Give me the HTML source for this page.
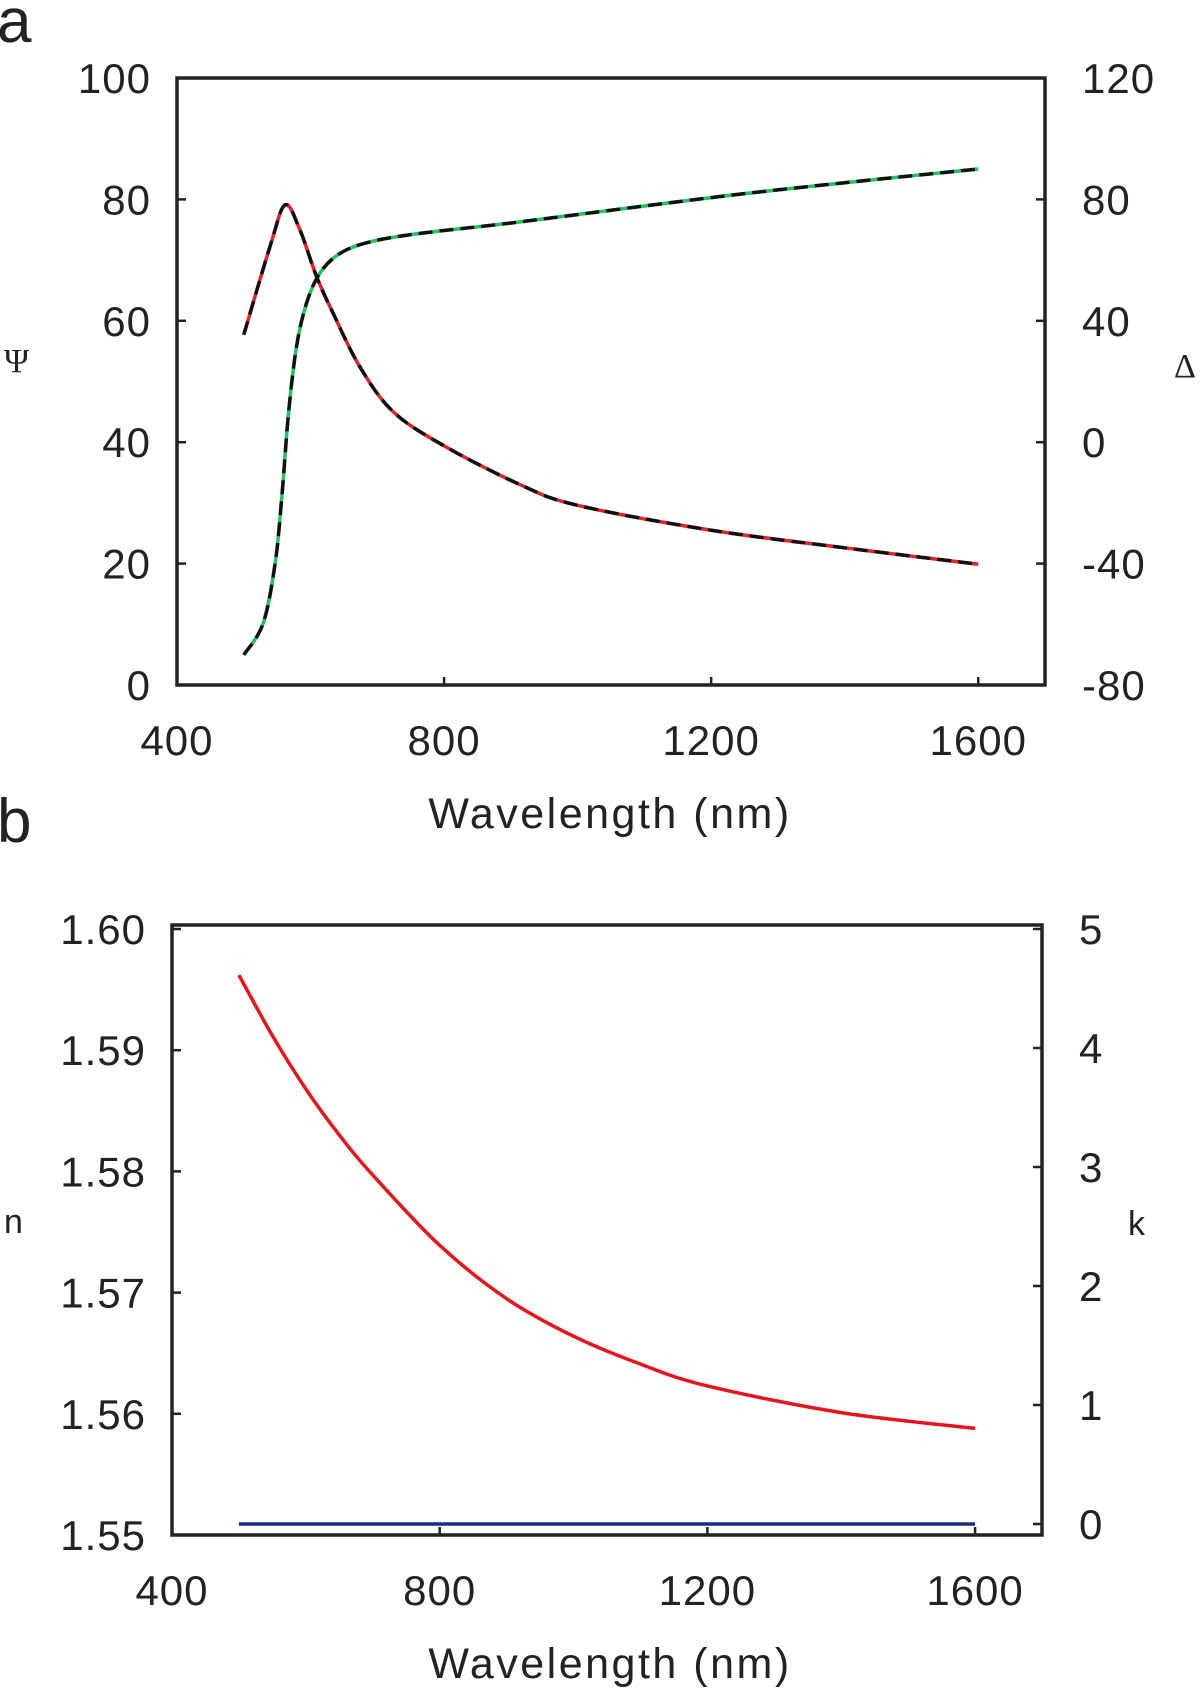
<!DOCTYPE html>
<html><head><meta charset="utf-8"><style>
html,body{margin:0;padding:0;background:#fff}
svg{display:block}
text{font-family:"Liberation Sans",sans-serif;fill:#222}
</style></head><body>
<svg id="chart" width="1200" height="1691" viewBox="0 0 1200 1691" xmlns="http://www.w3.org/2000/svg">
<text x="-3" y="42" font-size="62">a</text>
<text x="-3" y="842" font-size="62">b</text>
<g id="pa"></g>
<g id="pb"></g>
</svg>
<script>
// Panel a data
const wlA = [500, 540, 562, 584, 609, 634, 674, 724, 800, 914, 1000, 1200, 1400, 1600];
const psiVals = [57.7, 72.5, 79.1, 75, 67.3, 61.2, 52.4, 45.0, 39.4, 33.0, 29.6, 25.5, 22.6, 19.9];
const wlDelta = [500, 529, 547, 557, 567, 579, 594, 614, 644, 689, 764, 914, 1200, 1400, 1600];
const deltaVals = [-70.1, -59.7, -39.9, -18, 9.5, 31.5, 45.8, 55.7, 62.2, 66, 68.8, 72.6, 80.6, 85.5, 90];
const xTicks = [400, 800, 1200, 1600];
const psiTicks = [0, 20, 40, 60, 80, 100];
const deltaTicks = [-80, -40, 0, 40, 80, 120];
// Panel b data
const wlB = [500, 550, 600, 650, 700, 800, 900, 1000, 1100, 1200, 1400, 1600];
const nVals = [1.5962, 1.5912, 1.5868, 1.5830, 1.5797, 1.5739, 1.5695, 1.5664, 1.5641, 1.5623, 1.5601, 1.5588];
const kWl = [500, 1600];
const kVals = [0, 0];
const nTicks = [1.55, 1.56, 1.57, 1.58, 1.59, 1.60];
const kTicks = [0, 1, 2, 3, 4, 5];

const NS = "http://www.w3.org/2000/svg";
function mk(parent, tag, attrs){const e=document.createElementNS(NS,tag);for(const k in attrs)e.setAttribute(k,attrs[k]);parent.appendChild(e);return e;}
function lin(d0,d1,r0,r1){return v=>r0+(v-d0)/(d1-d0)*(r1-r0);}

function panel(g, box, x, yL, yR, lTicks, rTicks, lFmt, rFmt, lLabel, rLabel, lLabelPos, rLabelPos, xLabY, lSerif){
  const fr = mk(g,'rect',{x:box.l,y:box.t,width:box.r-box.l,height:box.b-box.t,fill:'none',stroke:'#222','stroke-width':3.5});
  
  
  xTicks.forEach(v=>{
    const t=mk(g,'line',{x1:x(v),x2:x(v),y1:box.b,y2:box.b-8,stroke:'#222','stroke-width':2.5});
    
    
    const l=mk(g,'text',{x:x(v),y:box.b+70,'font-size':42,'text-anchor':'middle','letter-spacing':1});l.textContent=v;
    
    
  });
  lTicks.forEach(v=>{
    const t=mk(g,'line',{x1:box.l,x2:box.l+9,y1:yL(v),y2:yL(v),stroke:'#222','stroke-width':2.5});
    
    
    const l=mk(g,'text',{x:box.l-26,y:yL(v)+15,'font-size':42,'text-anchor':'end','letter-spacing':1});l.textContent=lFmt(v);
    
    
  });
  rTicks.forEach(v=>{
    const t=mk(g,'line',{x1:box.r,x2:box.r-9,y1:yR(v),y2:yR(v),stroke:'#222','stroke-width':2.5});
    
    
    const l=mk(g,'text',{x:box.r+37,y:yR(v)+15,'font-size':42,'letter-spacing':1}); l.textContent=rFmt(v);
    
    
  });
  const a=mk(g,'text',{x:lLabelPos[0],y:lLabelPos[1],'font-size':34});a.textContent=lLabel;
  if(lSerif) a.setAttribute('style','font-family:"Liberation Serif",serif');
  
  
  const b=mk(g,'text',{x:rLabelPos[0],y:rLabelPos[1],'font-size':34});b.textContent=rLabel;
  if(lSerif) b.setAttribute('style','font-family:"Liberation Serif",serif');
  
  
  const xl=mk(g,'text',{x:610,y:xLabY,'font-size':43,'text-anchor':'middle','letter-spacing':2.5});xl.textContent='Wavelength (nm)';
  
  
}
function path(xs,ys,x,y){return xs.map((v,i)=>(i?'L':'M')+x(v).toFixed(1)+','+y(ys[i]).toFixed(1)).join(' ');}
function smoothPath(xs,ys,x,y){
  const p=xs.map((v,i)=>[x(v),y(ys[i])]);let d='M'+p[0][0]+','+p[0][1];
  for(let i=0;i<p.length-1;i++){const p0=p[i-1]||p[i],p1=p[i],p2=p[i+1],p3=p[i+2]||p2;
    d+=` C${p1[0]+(p2[0]-p0[0])/6},${p1[1]+(p2[1]-p0[1])/6} ${p2[0]-(p3[0]-p1[0])/6},${p2[1]-(p3[1]-p1[1])/6} ${p2[0]},${p2[1]}`;}
  return d;}

// Panel a
const ga=document.getElementById('pa');
const boxA={l:177,r:1045,t:78,b:685};
const xA=lin(400,1700,boxA.l,boxA.r);
const yPsi=lin(0,100,boxA.b,boxA.t);
const yDel=lin(-80,120,boxA.b,boxA.t);
panel(ga,boxA,xA,yPsi,yDel,psiTicks,deltaTicks,v=>v,v=>v,'Ψ','Δ',[4,372],[1174,377],828,true);
const psiD=smoothPath(wlA,psiVals,xA,yPsi);
const delD=smoothPath(wlDelta,deltaVals,xA,yDel);
[[psiD,'#e8202a','psi'],[delD,'#1fc45a','delta']].forEach(([d,c,n])=>{
  const s=mk(ga,'path',{d:d,fill:'none',stroke:c,'stroke-width':3.5});
  
  
  const k=mk(ga,'path',{d:d,fill:'none',stroke:'#111','stroke-width':3.5,'stroke-dasharray':'14 7'});
  
  
});

// Panel b
const gb=document.getElementById('pb');
const boxB={l:172,r:1042,t:925,b:1535};
const xB=lin(400,1700,boxB.l,boxB.r);
const yN=lin(1.55,1.60,boxB.b,929);
const yK=lin(0,5,1524,929);
panel(gb,boxB,xB,yN,yK,nTicks,kTicks,v=>v.toFixed(2),v=>v,'n','k',[4,1233],[1128,1235],1678,false);
const nl=mk(gb,'path',{d:smoothPath(wlB,nVals,xB,yN),fill:'none',stroke:'#e8141c','stroke-width':3.5});


const kl=mk(gb,'path',{d:path(kWl,kVals,xB,yK),fill:'none',stroke:'#1a2a8c','stroke-width':3.5});


</script>
</body></html>
